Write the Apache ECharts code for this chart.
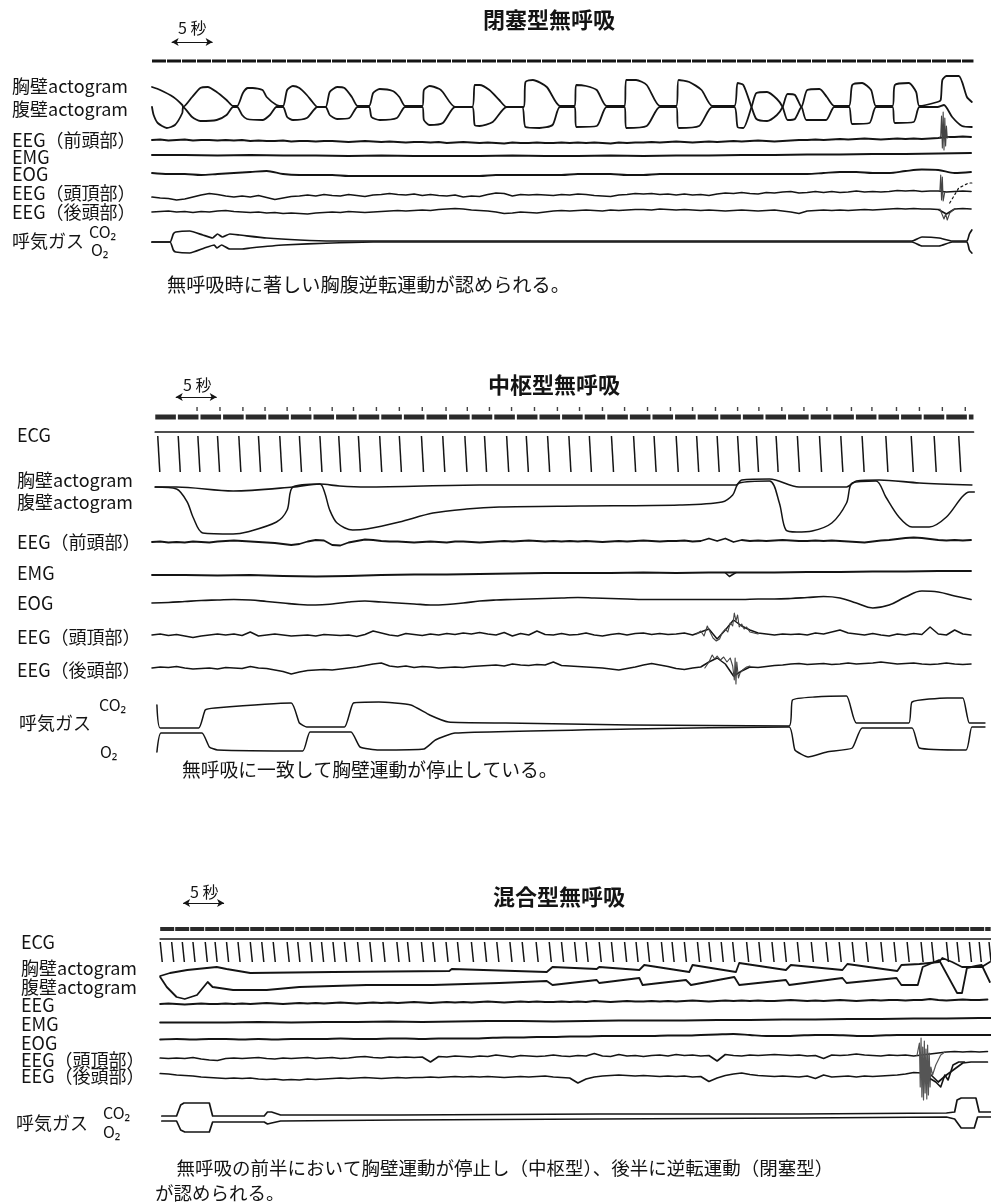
<!DOCTYPE html>
<html lang="ja">
<head>
<meta charset="UTF-8" />
<title>無呼吸の型</title>
<script src="https://cdn.jsdelivr.net/npm/echarts@6/dist/echarts.min.js"></script>
<style>html,body{margin:0;padding:0;background:#fff;overflow:hidden}</style>
</head>
<body>
<div id="panel" style="width:991px;height:1203px;"></div>
<script>
// ---------- text ----------
var titles = ['閉塞型無呼吸', '中枢型無呼吸', '混合型無呼吸'];
var scaleText = '5 秒';
var obLabels = ['胸壁actogram', '腹壁actogram', 'EEG（前頭部）', 'EMG', 'EOG', 'EEG（頭頂部）', 'EEG（後頭部）'];
var ceLabels = ['ECG', '胸壁actogram', '腹壁actogram', 'EEG（前頭部）', 'EMG', 'EOG', 'EEG（頭頂部）', 'EEG（後頭部）'];
var mxLabels = ['ECG', '胸壁actogram', '腹壁actogram', 'EEG', 'EMG', 'EOG', 'EEG（頭頂部）', 'EEG（後頭部）'];
var gasLabels = ['呼気ガス', 'CO₂', 'O₂'];
var captions = [
  ['無呼吸時に著しい胸腹逆転運動が認められる。'],
  ['無呼吸に一致して胸壁運動が停止している。'],
  ['　無呼吸の前半において胸壁運動が停止し（中枢型）、後半に逆転運動（閉塞型）', 'が認められる。']
];
var scaleSeconds = 5;

// ---------- 閉塞型 (obstructive) : [seconds, deflection] ----------
var obBand = [[0, 0], [100.3, 0]];
var obChest = [[0,20],[1.0,17],[2.6,10],[3.7,2],[3.8,0],[4.9,10],[5.9,19],[6.8,20],[7.9,15],[9.1,7],[9.9,1],[10.4,1],[11.1,14],[11.7,19],[12.3,19],[13.5,17],[14.0,10],[15.2,2],[16.0,1],[16.5,17],[17.2,21],[18.0,19],[18.9,12],[19.6,5],[20.2,0],[21.2,0],[21.7,15],[22.6,20],[23.5,19],[24.4,10],[25.1,1],[26.5,1],[27.0,14],[27.8,18],[29.4,16],[30.2,10],[30.9,1],[33.0,1],[33.2,17],[33.9,21],[35.1,18],[35.5,15],[37.0,0],[39.1,0],[39.4,22],[40.0,22],[41.2,17],[42.4,7],[43.3,0],[45.4,0],[45.6,25],[46.5,27],[48.2,20],[49.8,1],[51.6,1],[51.8,22],[53.0,21],[54.3,17],[55.5,1],[57.7,1],[57.9,27],[59.1,27],[60.4,22],[62.0,1],[64.0,1],[64.3,27],[65.6,25],[67.1,17],[68.4,1],[71.1,1],[71.5,24],[72.2,22],[73.2,0],[73.8,-12],[75.1,-14],[76.3,-8],[77.0,0],[77.6,13],[78.5,12],[79.3,0],[80.0,17],[81.5,18],[82.4,10],[83.3,1],[85.1,1],[85.5,22],[86.7,24],[87.8,17],[88.4,1],[90.4,1],[90.7,22],[92.4,24],[93.3,15],[93.7,1],[95.9,5],[96.3,7],[96.5,27],[97.0,31],[98.5,31],[99.5,10],[100.1,5]];
var obAbdomen = [[0,0],[0.2,-8],[0.7,-16],[1.8,-21],[2.8,-18],[3.7,-6],[3.8,0],[4.9,-10],[5.9,-14],[7.9,-13],[9.1,-8],[9.9,0],[10.4,0],[11.0,-8],[11.6,-12],[13.5,-13],[14.4,-8],[15.2,0],[16.0,0],[16.5,-10],[17.2,-13],[18.9,-11],[20.2,0],[21.2,0],[21.7,-8],[22.6,-12],[24.1,-11],[25.1,0],[26.5,0],[26.8,-10],[27.8,-13],[29.9,-11],[30.9,0],[33.0,0],[33.2,-13],[33.9,-18],[35.5,-16],[37.0,0],[39.1,0],[39.4,-18],[40.0,-19],[41.6,-15],[43.3,0],[45.2,0],[45.6,-20],[47.3,-21],[48.9,-18],[49.8,0],[51.6,0],[51.8,-20],[54.3,-19],[55.5,0],[57.7,0],[57.9,-21],[60.4,-19],[62.0,0],[64.0,0],[64.3,-21],[66.8,-19],[68.4,0],[71.1,0],[71.5,-20],[72.2,-21],[73.2,0],[73.8,14],[75.1,15],[76.3,8],[77.0,0],[77.6,-13],[78.5,-12],[79.3,0],[79.9,-13],[82.3,-13],[83.3,0],[85.1,0],[85.5,-17],[87.6,-16],[88.4,0],[90.4,0],[90.7,-16],[93.0,-15],[93.7,0],[95.9,0],[96.7,2],[97.7,-10],[98.9,-19],[100.1,-20]];
// one value per second from t = 0
var obEegFront = [0,0.5,-0.5,0,0.5,-0.5,0,0,-0.5,0, -0.5,0,-1,-0.5,-1,-1,-0.5,-1.5,-1,-1, -1.5,-1,-1,-1.5,-2,-1.5,-1,-1.5,-2,-1.5, -2,-2.5,-2,-2,-2.5,-2,-3,-2.5,-2,-2.5, -3,-2.5,-3,-3.5,-2.5,-3,-3,-2.5,-3,-3, -2.5,-3,-2.5,-3,-2.5,-3,-3.5,-2.5,-3,-2.5, -2.5,-2,-2.5,-2,-1.5,-2,-2.5,-2,-1.5,-2, -1.5,-1,-1.5,-1,-0.5,-1,-1.5,-1,-0.5,0, 0,0.5,0,0.5,1,0.5,1,1.5,1,0.5, 1,1.5,1,1.5,1,1.5,2,3,3,3.5, 3];
var obEmg = [0,0,-0.5,0,-0.5,-0.5,-1,-0.5,-1,-1,-1,-0.5,-1,-1,-0.5,-1,-0.5,-0.5,0,0,0.5,0.5,1,1,1.5,2]; // every 4 s
var obEog = [0,-1,-1,-2,-1,0,1,2,-1,-2, -2,-2,-3,-3,-3,-3,-3,-3,-3,-3, -3,-2,-2,-2,-2,-2,-1,-1,-1,-2, -2,-1,-1,-1,-1,-1,-1,-1,-1,-1, -1,0,1,1,0,0,2,3.5,3,0, 1]; // every 2 s
var obEegVertex = [-2,-3,-3.5,-5,-4,-2,0,1.5,0.5,-1, -2,-1,-2,-0.5,-2.5,-4.5,-3,-1.5,-1,0, -1,0.5,-0.5,-1,0.5,-0.5,-1.5,0,0.5,1.5, 0.5,0,1,-0.5,0.5,-0.5,-1,0,-2,-1, -1.5,0.5,2,1.5,-1,0.5,0,0.5,0,-0.5, 0.5,0,1,0.5,-0.5,-1,-1.5,0,0.5,1.5, 1,1.5,0.5,1,0,1,0,0.5,-0.5,1, 2,1.5,2.5,1.5,1,2.5,2,3,3.5,2, 2.5,3.5,2.5,3.5,2.5,3,4,3,3.5,3, 3.5,4.5,4,4.5,3.5,4,4,3,3.5,4, 3.5];
var obEegOccip = [-1,-0.5,0,-1,-0.5,-1.5,-0.5,-1,0,0.5, -0.5,-1,-1.5,-1,-2,-1.5,-2.5,-2,-2.5,-3, -2,-1.5,-1,-1.5,-0.5,-1,-1.5,-1,-0.5,0, 0.5,0,0.5,1,0.5,1.5,2,2.5,2,1, 0.5,0,-1,-2.5,-2,-1,-1.5,-2,-1,0, 0.5,0,0.5,1,0.5,0,1,0.5,1,1.5, 1.5,1,2,1.5,1,1.5,1,0.5,1,0.5, 0,0.5,1,0.5,0,0.5,1,0,-1,-2.5, 0,0.5,1,0.5,1,0.5,1,1.5,1,1.5, 2,2.5,2,2.5,2,2,1.5,-3,2,2.5, 2];
var obArtFront = [[96.1,1.5],[96.3,4],[96.4,24],[96.5,-8],[96.6,28],[96.7,-10],[96.8,22],[96.9,-6],[97.0,14],[97.1,2],[97.3,3]];
var obArtVertex = [[96.2,4],[96.3,20],[96.4,-5],[96.5,18],[96.6,-6],[96.8,3]];
var obArtVertexTrail = [[97.4,-8],[98.5,7],[99.7,12],[100.1,12]];
var obArtOccip = [[96.2,2],[96.5,-4],[96.7,-8],[96.9,-3],[97.1,-9],[97.4,-2],[97.8,1],[98.2,2.5]];
var obCo2 = [[0,0],[2.2,0],[2.6,8],[2.9,10],[4.6,11],[6.2,7],[7.4,4],[8.0,8],[8.6,5],[9.5,8],[10.7,7],[14.0,4],[18.0,2],[22.0,1],[27.0,1],[92.8,1],[94.0,5],[96.1,4],[97.7,1],[99.5,1],[99.8,8],[100.1,12]];
var obO2 = [[0,0],[2.2,0],[2.6,-8],[2.9,-10],[4.6,-11],[6.4,-6],[7.6,-3],[7.9,-6],[8.5,-3],[9.5,-7],[11.0,-7],[12.0,-6],[16.0,-3],[22.0,-1],[27.0,0],[92.8,0],[94.0,-4],[96.1,-4],[97.7,0],[99.5,0],[99.8,-8],[100.1,-11]];

// ---------- 中枢型 (central) ----------
var ceBand = [[0.4, 0], [100.3, 0]];
var ceTicks = [5.5,8.3,11.1,13.8,16.5,19.3,22.0,24.6,27.4,30.2,33.0,35.9,38.5,41.2,43.9,46.7,49.5,52.2,55.0,57.7,60.5,63.3,66.0,68.8,71.5,74.1,76.9,79.6,82.4,85.4,87.9,90.9,93.7,96.5,99.3];
var ceEcgLine = [[0.4, 0], [100.3, 0]];
var ceEcgBeats = [0.7,3.2,5.6,8.0,10.6,13.0,15.6,18.0,20.5,22.8,25.2,27.8,30.2,32.9,35.5,38.2,40.6,43.3,45.7,48.3,50.9,53.4,56.1,58.8,61.3,64.0,66.5,69.0,71.5,73.8,76.2,78.8,81.5,84.1,86.7,89.6,92.7,95.5,98.5];
var ceChest = [[0.4,0],[3.0,0],[9.9,-4],[17.2,0],[20.5,3],[22.9,1],[26.2,0],[40.0,2],[71.3,2],[72.0,7],[75.4,8],[79.0,0],[84.8,0],[86.0,6],[88.8,7],[93.7,4],[100.1,2]];
var ceAbdomen = [[0.4,0],[3.0,-2],[4.3,-15],[5.0,-30],[6.2,-46],[9.9,-47],[11.6,-45],[15.2,-35],[16.5,-23],[17.2,0],[20.5,3],[21.1,-6],[21.7,-23],[22.6,-36],[24.5,-43],[26.2,-42],[30.2,-35],[34.3,-26],[38.4,-22],[42.4,-20],[52.2,-19],[64.4,-18],[69.6,-15],[70.9,-8],[71.7,4],[75.4,6],[76.6,-16],[77.4,-43],[78.7,-45],[80.6,-44],[83.0,-36],[84.8,-16],[85.5,4],[88.4,6],[89.6,-10],[91.2,-30],[92.8,-40],[94.9,-40],[97.0,-30],[98.9,-10],[99.8,-5],[100.4,-5]];
var ceEegFront = [0,0.5,-0.5,0,-0.5,0.5,0,-0.5,0.5,1, 1.5,1,0.5,0,-0.5,-1,-2,-3,-2,0.5, 2,1.5,-3,-3.5,-0.5,1,2.5,2,1,0.5, 0.5,0,-0.5,0,0.5,0,-0.5,0.5,0.5,0, -0.5,0,0.5,1,0.5,1,1.5,1,0.5,1, 0.5,1,0.5,1,0.5,0,0.5,1,0.5,1, 1.5,1,0.5,1,1,1.5,0.5,1,3.5,1, 3.5,0,2,1,1.5,1,1.5,2,1.5,1, 1,1.5,1,1.5,1,0.5,0,-0.5,0.5,1.5, 2,3,4,4.5,4,3,2,1.5,2,1.5, 2];
var ceEmg = [0,0,-0.5,0,-1,-1.5,-1,0,0.5,0.5,1,1.5,2,2,2,2.5,2,2.5,2.5,2.5,3,3,3.5,3.5,4,4];
var ceEmgNotch = [[70.0,2.3],[70.5,-1.5],[70.8,0],[71.3,2.4]];
var ceEog = [0,0.5,1.5,2.5,3,3.5,3,1.5,0,-1.5, -2,-1,1,2,1,0,-1,-2,-1.5,0, 2,3,3.5,4,4.5,5,5.5,5,4.5,4, 3.5,3.5,3.5,3.5,3.5,3.5,3.5,4,4,4.5, 5.5,6.5,5,0,-5,-2,6,12,11,7, 3.5];
var ceEegVertex = [0,1,-0.5,0.5,-1,-2.5,-1,0,1,0, 1,-0.5,3,-1,0,1,0,-1,-0.5,0, -1,0.5,0,-0.5,0,-1.5,0.5,4,2,0, -1,1.5,0.5,-0.5,1,0,1.5,0.5,2,1, 2.5,1,0,2.5,-1,1.5,0,4,0.5,0, 1.5,0,0.5,2,0,-1,0.5,1.5,0,1.5, 2,0.5,1.5,0.5,1,2,0,3,6,-4, 5,15,9,5,2,1,0,1,0.5,1, 0,2,1,3,5,2,1,0,1.5,0, -1,1,0,1.5,0.5,8,1,0,5,1, 0];
var ceEegOccip = [0,1,0.5,1.5,0,-1,-0.5,0,-1,0.5, 0,-0.5,1.5,0,-0.5,-2,-3.5,-6,-4,-2.5, -2,-1.5,-2,-1,0,1,2.5,4,5,2, 1,2,0.5,1.5,1,0,0.5,1,0.5,1.5, 2,2.5,3,2,4,3,2.5,3.5,3,6, 2.5,2,1.5,1,0.5,0,-1,-2,-0.5,1, 3,4.5,3,1.5,-0.5,-1.5,0,1,6,10, 4,-8,-3,1,0.5,1.5,2.5,3,4,4.5, 3.5,4,4.5,3.5,4,5,4,4.5,5,6, 5,4,4.5,5,4,3.5,4,5,4,3.5, 4];
var ceArtVertex = [[66.5,1],[67.0,4],[67.4,-1],[67.8,9],[68.2,2],[68.5,-3],[68.9,-6],[69.3,-4],[69.6,2],[70.0,6],[70.3,3],[70.6,12],[70.9,9],[71.1,22],[71.3,14],[71.5,20],[71.7,8],[72.0,11],[72.3,6],[72.6,8],[73.0,3],[73.5,2],[74.0,1]];
var ceArtOccip = [[67.5,0],[68.0,6],[68.4,13],[68.7,9],[69.0,12],[69.4,8],[69.8,11],[70.2,6],[70.6,10],[70.9,2],[71.1,-12],[71.2,10],[71.3,-16],[71.4,6],[71.6,-10],[71.8,-5],[72.1,-2],[72.6,1],[73.0,2]];
var ceCo2 = [[0.6,23],[1.0,0],[5.7,0],[6.5,18],[7.7,20],[17.0,25],[18.0,5],[18.9,1],[23.5,1],[24.6,25],[27.7,26],[31.6,23],[33.9,13],[36.2,6],[43.2,5],[58.5,3],[77.8,2],[78.2,28],[80.9,31],[84.8,32],[86.0,5],[92.4,5],[92.8,26],[97.1,30],[99.0,30],[99.8,5],[101.7,5]];
var ceO2 = [[0.6,-24],[1.1,-5],[6.1,-5],[7.0,-19],[8.0,-22],[18.4,-23],[19.3,-4],[24.3,-4],[25.4,-19],[27.7,-22],[33.2,-21],[34.6,-12],[37.0,-5],[58.5,-1],[77.8,1],[78.5,-22],[80.1,-29],[82.4,-24],[85.5,-20],[86.7,0],[92.8,0],[93.7,-20],[99.4,-22],[100.1,1],[101.7,1]];

// ---------- 混合型 (mixed) ----------
var mxBand = [[1.0, 0], [102.4, 0]];
var mxEcgLine = [[1.0, 0], [102.4, 0]];
var mxEcgBeats = [1.0,2.4,3.7,5.0,6.5,7.7,9.1,10.5,12.0,13.4,14.8,16.5,17.8,19.3,20.7,22.1,23.5,25.1,26.6,28.2,29.9,31.2,32.9,34.3,35.9,37.3,39.0,40.6,42.1,43.7,45.2,46.9,48.5,50.0,51.6,53.0,54.6,56.1,57.7,59.1,60.5,62.2,63.5,65.0,66.6,68.0,69.5,70.9,72.6,74.1,75.7,77.2,78.8,80.5,82.3,83.9,85.5,87.2,89.0,90.6,92.2,93.9,95.2,97.0,98.3,99.8,101.0,102.2];
var mxChest = [[1.0,-1],[2.2,2],[4.3,5],[7.9,8],[9.1,6],[12.0,2],[22.1,3],[36.3,4],[36.6,6],[48.2,3],[48.9,8],[54.3,6],[54.6,8],[59.5,5],[60.1,10],[65.6,3],[66.0,10],[71.3,3],[71.7,12],[77.4,5],[78.0,10],[84.3,5],[84.9,11],[91.0,4],[91.5,10],[93.7,11],[96.1,13],[96.5,17],[97.7,13],[98.9,8],[101.3,8],[102.3,13]];
var mxAbdomen = [[1.0,-2],[1.8,-12],[3.0,-22],[4.0,-24],[5.5,-20],[6.8,-7],[7.4,-12],[9.9,-15],[14.0,-15],[18.0,-12],[26.2,-10],[34.3,-10],[42.4,-8],[48.2,-6],[48.9,-10],[54.3,-5],[54.6,-8],[59.5,-3],[59.9,-10],[65.2,-5],[65.8,-10],[71.1,-2],[71.7,-10],[77.4,-5],[77.8,-10],[84.3,-3],[84.8,-8],[90.9,-3],[91.5,-10],[93.5,-10],[94.1,8],[94.3,10],[96.1,15],[97.3,-3],[98.3,-18],[98.9,-18],[99.5,7],[100.6,9],[101.3,10],[102.3,-7]];
// one value per second from t = 1
var mxEeg = [-2,-1.5,-2,-2.5,-2,-1.5,-2,-2,-1.5,-2, -1.5,-2,-1.5,-1,-1.5,-2,-1.5,-1,-1.5,-1, -1.5,-1,-0.5,-1,-1.5,-1,-0.5,-1,-0.5,-1, -0.5,0,-0.5,-1,-0.5,0,-0.5,0,-0.5,0, 0.5,0,-0.5,0,0.5,0,0.5,0,0,0.5, 0,0.5,0,1,0.5,0,0.5,1,0.5,0.5, 1,0.5,1,0.5,1,1.5,1,0.5,1,1.5, 1,1.5,1,1.5,1,1,1.5,2,1.5,1, 1.5,1,1.5,2,1.5,1,1.5,2,1.5,2, 2,1.5,2,2,3,2,1.5,2,2.5,2, 2,2.5];
var mxEmg = [-1.5,-1.5,-1.5,-1,-1.5,-1,-1,-0.5,-1,-0.5,0,0,-0.5,0,0.5,0.5,0.5,1,1,1.5,1.5,2,2,2.5,2.5,3,3]; // every 4 s
var mxEog = [-0.5,0,-0.5,0,0,-0.5,0,-0.5,0,0, 0,0.5,0,0,0.5,0.5,0,0.5,0.5,0.5, 1,1.5,1.5,2,2,2.5,2.5,3,3,3, 3,3.5,3.5,4,4.5,5,4,3,3,3.5, 4,4,3.5,3,3.5,4,4,4,4,4, 4,4]; // every 2 s
var mxEegVertex = [-1,-1.5,-1,-1.5,-0.5,-2,-3,-3.5,-1.5,-1, -1.5,-1,-0.5,-1.5,-2,-1,-1.5,-1,-0.5,-1.5, -1,-0.5,-1.5,-1,0,0.5,-0.5,-1,0,-0.5, 0,-0.5,0,-5,0.5,0,1,0.5,0,1, 0.5,2,1,0,1.5,1,0.5,1,2,1, 0.5,1.5,1,3.5,1,0.5,2.5,1,1.5,0.5, 1.5,2,1,2.5,1.5,2,1,1.5,-4,2.5, 1.5,1,2,1.5,2,2.5,2,1.5,2,1, 1.5,-1.5,2,1.5,2,3,2,1.5,1,2, 1.5,2,1,2,3,4,5,5.5,5,5.5, 5,5.5];
var mxEegOccip = [3.5,3,2,1.5,1,0,-0.5,-1,-1.5,-1, -1.5,-1,-2,-2.5,-2,-3,-2.5,-3,-2,-2.5, -2,-1.5,-1,-1.5,-1,-0.5,-1,-1.5,-1,-0.5, -1,-0.5,-0.5,0,-0.5,0,0.5,0,0.5,0, 0.5,0,-0.5,0,0.5,0,0.5,1,0,-0.5, -1,-6,-2,0,1,1.5,2,1.5,1,1.5, 1,0.5,1,0.5,1,0,0.5,-4.5,-1,1.5, 3,4,2.5,1.5,1,0.5,1,0.5,0,1, -1.5,2,0,0.5,1,0,1,0.5,1,1.5, 2,3,4.5,4,3,-5,2,8,14,15, 15,15];
var mxArt = [[93.4,1.5],[93.7,14],[93.8,-30],[93.9,19],[94.0,-40],[94.1,10],[94.2,-43],[94.3,16],[94.4,-36],[94.5,8],[94.6,-42],[94.7,12],[94.8,-38],[94.9,4],[95.0,-30],[95.1,-10],[95.3,-18],[95.7,-8],[96.3,2],[96.8,5]];
var mxArtOccip = [[95.1,-2],[95.7,-5],[96.3,-10],[96.8,2],[97.2,-3],[97.8,12],[98.5,15],[99.2,15]];
var mxCo2 = [[1.2,0],[3.0,0],[3.5,11],[3.9,13],[7.0,13],[7.4,0],[13.7,0],[14.1,4],[14.6,4],[15.7,1],[30.2,1],[54.6,2],[79.0,2],[97.0,3],[98.0,4],[98.3,16],[98.8,18],[100.6,18],[101.0,4],[102.4,4]];
var mxO2 = [[1.2,-5],[3.0,-5],[3.5,-14],[4.0,-16],[7.0,-16],[7.4,-6],[13.7,-6],[14.1,-8],[14.6,-7],[15.7,-5],[30.2,-4],[54.6,-3],[79.0,-2],[97.0,-1],[98.0,-3],[98.8,-12],[100.4,-12],[100.8,-1],[102.4,-1]];

// ---------- chart ----------
var INK = '#141414';
var FONT = '"Noto Sans CJK JP", "Noto Sans", sans-serif';
var myChart = echarts.init(document.getElementById('panel'));

// 8.2 px per second in every panel; y axis runs in page pixels
var grids = [
  { left: 152, top: 30, width: 840, height: 235 },
  { left: 152, top: 390, width: 840, height: 375 },
  { left: 152, top: 895, width: 840, height: 245 }
];

function sampled(vals, t0, dt) {
  return vals.map(function (v, i) { return [t0 + i * dt, v]; });
}

var series = [];
function trace(gi, pts, base, style, extra) {
  var ls = { color: INK, width: 1.7, cap: 'round', join: 'round' };
  for (var k in (style || {})) ls[k] = style[k];
  var s = {
    type: 'line', xAxisIndex: gi, yAxisIndex: gi, symbol: 'none', silent: true,
    data: pts.map(function (p) { return [p[0], base - p[1]]; }),
    lineStyle: ls
  };
  for (var e in (extra || {})) s[e] = extra[e];
  series.push(s);
  return s;
}
function ecg(gi, beats, top, bottom) {
  series.push({
    type: 'custom', xAxisIndex: gi, yAxisIndex: gi, silent: true,
    data: beats.map(function (t) { return [t, top]; }),
    renderItem: function (params, api) {
      var a = api.coord([api.value(0), top]);
      var b = api.coord([api.value(0) + 0.25, bottom]);
      return { type: 'line', shape: { x1: a[0], y1: a[1], x2: b[0], y2: b[1] },
        style: { stroke: INK, lineWidth: 1.5 } };
    }
  });
}
function scaleBar(s, t0, y) {
  s.markLine = {
    silent: true, symbol: ['arrow', 'arrow'], symbolSize: [6, 7],
    label: { show: false },
    lineStyle: { color: INK, width: 1, type: 'solid' },
    data: [[{ coord: [t0, y] }, { coord: [t0 + scaleSeconds, y] }]]
  };
}

var art = { color: '#444', width: 1.1 };
var round = { smooth: 0.22 };

// panel 1
var b1 = trace(0, obBand, 61, { width: 3, type: [14, 1], cap: 'butt' });
scaleBar(b1, 2.4, 42);
trace(0, obChest, 107, { width: 1.8 }, round);
trace(0, obAbdomen, 107, { width: 1.8 }, round);
trace(0, sampled(obEegFront, 0, 1), 140, { width: 2 });
trace(0, sampled(obEmg, 0, 4), 155, { width: 2 });
trace(0, sampled(obEog, 0, 2), 173, { width: 1.8 }, { smooth: 0.3 });
trace(0, sampled(obEegVertex, 0, 1), 195, { width: 1.7 });
trace(0, sampled(obEegOccip, 0, 1), 211, { width: 1.7 });
trace(0, obArtFront, 140, art);
trace(0, obArtVertex, 195, art);
trace(0, obArtVertexTrail, 195, { width: 1.2, type: [2, 3] });
trace(0, obArtOccip, 211, art);
trace(0, obCo2, 242, { width: 1.7 }, { smooth: 0.15 });
trace(0, obO2, 242, { width: 1.7 }, { smooth: 0.15 });

// panel 2
var b2 = trace(1, ceBand, 417, { width: 5, type: [20.6, 2], cap: 'butt', color: '#2a2a2a' });
scaleBar(b2, 2.9, 397);
series.push({
  type: 'scatter', xAxisIndex: 1, yAxisIndex: 1, silent: true, symbol: 'rect', symbolSize: [1.4, 4],
  itemStyle: { color: INK }, data: ceTicks.map(function (t) { return [t, 409]; })
});
trace(1, ceEcgLine, 432, { width: 1.7 });
ecg(1, ceEcgBeats, 436, 472);
trace(1, ceChest, 487, { width: 1.7 }, { smooth: 0.3 });
trace(1, ceAbdomen, 487, { width: 1.5 }, { smooth: 0.3 });
trace(1, sampled(ceEegFront, 0, 1), 542, { width: 1.8 });
trace(1, sampled(ceEmg, 0, 4), 575, { width: 1.8 });
trace(1, ceEmgNotch, 575, { width: 1.5 });
trace(1, sampled(ceEog, 0, 2), 603, { width: 1.7 }, { smooth: 0.4 });
trace(1, sampled(ceEegVertex, 0, 1), 635, { width: 1.5 });
trace(1, sampled(ceEegOccip, 0, 1), 668, { width: 1.5 });
trace(1, ceArtVertex, 635, art);
trace(1, ceArtOccip, 668, art);
trace(1, ceCo2, 728, { width: 1.5 }, { smooth: 0.15 });
trace(1, ceO2, 728, { width: 1.5 }, { smooth: 0.15 });

// panel 3
var b3 = trace(2, mxBand, 929, { width: 4, type: [14, 1], cap: 'butt', color: '#2a2a2a' });
scaleBar(b3, 3.8, 903);
trace(2, mxEcgLine, 939, { width: 1.6 });
ecg(2, mxEcgBeats, 942, 962);
trace(2, mxChest, 975, { width: 1.8 });
trace(2, mxAbdomen, 975, { width: 1.8 });
trace(2, sampled(mxEeg, 1, 1), 1002, { width: 2 });
trace(2, sampled(mxEmg, 1, 4), 1021, { width: 2 });
trace(2, sampled(mxEog, 1, 2), 1039, { width: 2 }, { smooth: 0.3 });
trace(2, sampled(mxEegVertex, 1, 1), 1057, { width: 1.7 });
trace(2, sampled(mxEegOccip, 1, 1), 1077, { width: 1.7 });
trace(2, mxArt, 1057, { color: '#555', width: 1.2 });
trace(2, mxArtOccip, 1077, { width: 1.6 });
trace(2, mxCo2, 1116, { width: 1.7 });
trace(2, mxO2, 1116, { width: 1.7 });

// ---------- text layout ----------
var graphic = [];
function txt(s, x, y, size, weight) {
  graphic.push({
    type: 'text', x: x, y: y, silent: true,
    style: { text: s, fill: INK, font: (weight || 'normal') + ' ' + size + 'px ' + FONT,
      textAlign: 'left', textVerticalAlign: 'middle', align: 'left', verticalAlign: 'middle' }
  });
}
var panels = [
  { labels: obLabels, lx: 12, ly: [86, 109, 140, 157, 174, 193, 212], gas: [[12, 241], [89, 232], [91, 250]],
    title: [483, 20], scale: [178, 28], cap: [[167, 285, 19.2]] },
  { labels: ceLabels, lx: 17, ly: [435, 480, 502, 542, 573, 603, 637, 670], gas: [[19, 723], [99, 705], [100, 752]],
    title: [488, 385], scale: [183, 385], cap: [[182, 770, 18.8]] },
  { labels: mxLabels, lx: 21, ly: [942, 968, 987, 1005, 1024, 1043, 1060, 1076], gas: [[16, 1123], [103, 1113], [103, 1132]],
    title: [493, 897], scale: [190, 892], cap: [[158, 1168, 18.5], [155, 1193, 18.5]] }
];
panels.forEach(function (p, i) {
  txt(titles[i], p.title[0], p.title[1], 22, 'bold');
  txt(scaleText, p.scale[0], p.scale[1], 16);
  p.labels.forEach(function (s, j) { txt(s, p.lx, p.ly[j], 18); });
  txt(gasLabels[0], p.gas[0][0], p.gas[0][1], 18);
  txt(gasLabels[1], p.gas[1][0], p.gas[1][1], 16);
  txt(gasLabels[2], p.gas[2][0], p.gas[2][1], 16);
  captions[i].forEach(function (s, j) { txt(s, p.cap[j][0], p.cap[j][1], p.cap[j][2]); });
});

var option = {
  animation: false,
  backgroundColor: '#ffffff',
  grid: grids,
  xAxis: grids.map(function (g, i) {
    return { type: 'value', gridIndex: i, min: 0, max: 102.44, show: false };
  }),
  yAxis: grids.map(function (g, i) {
    return { type: 'value', gridIndex: i, min: g.top, max: g.top + g.height, inverse: true, show: false };
  }),
  graphic: graphic,
  series: series
};

myChart.setOption(option);

window.addEventListener('resize', function () {
  myChart.resize();
});
</script>
</body>
</html>
